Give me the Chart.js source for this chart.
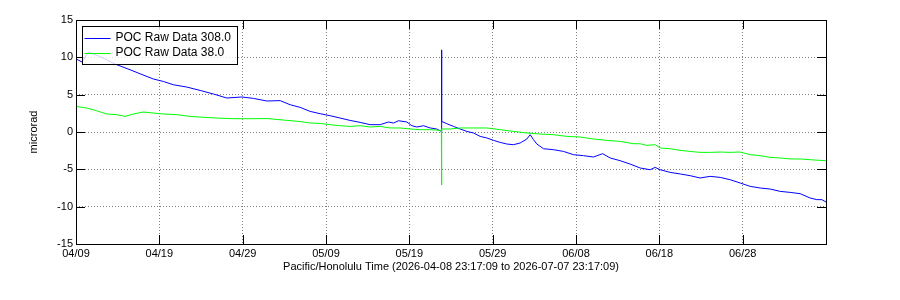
<!DOCTYPE html>
<html>
<head>
<meta charset="utf-8">
<script src="https://cdn.jsdelivr.net/npm/chart.js@4.4.1/dist/chart.umd.min.js"></script>
<style>
  body { margin: 0; background: #fff; }
</style>
</head>
<body>
<canvas id="chart" width="900" height="300"></canvas>
<script>
// days since 04/09, ticks every 10 days
const tickLabels = ['04/09', '04/19', '04/29', '05/09', '05/19', '05/29', '06/08', '06/18', '06/28'];
const seriesNames = ['POC Raw Data 308.0', 'POC Raw Data 38.0'];

const blueDays = [0, 0.72, 1.48, 2.88, 4.08, 4.68, 6.48, 7.68, 9.28, 10.48, 11.68, 13.29, 14.89, 16.49, 18.1, 19.9,
  21.29, 22.9, 24.5, 25.7, 26.9, 28.1, 29.3, 30.5, 31.7, 32.9, 34.1, 35.3, 36.5, 37.5, 38.1, 38.7, 39.7, 40.3,
  40.9, 41.7, 42.5, 43.3, 43.84, 43.88, 43.88, 44.5, 45.3, 46.1, 46.9, 47.7, 48.5, 49.3, 50.1, 50.9, 51.7, 52.5,
  53.3, 54.1, 54.5, 54.9, 55.3, 56.1, 57.3, 58.5, 59.7, 60.9, 62.1, 63.2, 64.1, 65.3, 66.5, 67.7, 68.9, 69.5,
  70.1, 71.3, 72.5, 73.7, 74.9, 76.1, 77.3, 78.5, 79.7, 80.9, 82.1, 83.3, 84.5, 85.7, 86.9, 88.1, 88.9, 89.5, 90];
const blueVals = [9.8, 9.37, 10.7, 10.1, 9.45, 9.1, 8.34, 7.8, 7.1, 6.77, 6.33, 6.02, 5.57, 5.09, 4.55, 4.69,
  4.5, 4.15, 4.2, 3.65, 3.3, 2.76, 2.45, 2.18, 1.87, 1.55, 1.29, 0.98, 0.98, 1.34, 1.2, 1.51, 1.34, 0.84,
  0.67, 0.84, 0.54, 0.4, 0.08, 11.0, 1.42, 1.11, 0.75, 0.4, 0.08, -0.13, -0.59, -0.8, -1.12, -1.39, -1.61, -1.7,
  -1.47, -0.94, -0.36, -1.03, -1.61, -2.24, -2.37, -2.6, -3.04, -3.17, -3.35, -2.9, -3.48, -3.84, -4.3, -4.82, -5.05, -4.74,
  -5.05, -5.41, -5.62, -5.85, -6.16, -5.94, -6.08, -6.39, -6.83, -7.28, -7.5, -7.64, -7.95, -8.09, -8.26, -8.84, -9.06, -9.06, -9.37];

const greenDays = [0, 1.28, 2.48, 3.68, 4.89, 5.89, 6.88, 8.08, 9.28, 10.48, 12.09, 13.69, 14.89, 16.89, 18.89,
  20.9, 22.9, 24.9, 26.9, 28.1, 29.3, 30.5, 31.7, 32.9, 34.1, 35.3, 36.5, 37.7, 38.9, 40.1, 41.3, 42.5, 43.84,
  43.88, 43.88, 44.9, 46.1, 47.7, 49.3, 50.9, 52.5, 54.1, 55.7, 57.3, 58.9, 60.5, 62.1, 63.7, 65.3, 66.9, 67.7,
  68.5, 69.5, 70.1, 71.3, 72.5, 73.7, 74.9, 76.1, 77.3, 78.5, 79.7, 80.9, 82.1, 83.3, 84.5, 85.7, 86.9, 88.1, 89.3, 90];
const greenVals = [3.43, 3.21, 2.85, 2.41, 2.32, 2.09, 2.41, 2.68, 2.54, 2.41, 2.32, 2.09, 2.0, 1.87, 1.78,
  1.78, 1.8, 1.6, 1.4, 1.2, 1.15, 0.98, 0.84, 0.75, 0.84, 0.67, 0.75, 0.54, 0.54, 0.4, 0.31, 0.31, 0.21,
  -7.1, 0.4, 0.4, 0.54, 0.54, 0.54, 0.31, 0.08, -0.13, -0.27, -0.36, -0.59, -0.67, -0.94, -1.12, -1.26, -1.57, -1.57,
  -1.79, -1.7, -2.14, -2.24, -2.46, -2.6, -2.73, -2.73, -2.68, -2.73, -2.68, -3.04, -3.17, -3.4, -3.48, -3.61, -3.61, -3.71, -3.8, -3.84];

const colors = ['#0000ff', '#00ff00'];
const font = 'Liberation Sans, Arial, Helvetica, sans-serif';

function points(days, vals) {
  return days.map((d, i) => ({ x: d, y: vals[i] }));
}

// box, inward tick marks and legend on top of the lines
const framePlugin = {
  id: 'frame',
  afterDatasetsDraw(chart) {
    const { ctx, chartArea: a, scales: { x, y } } = chart;
    const len = 9;
    ctx.save();
    ctx.strokeStyle = '#000';
    ctx.lineWidth = 1;
    ctx.beginPath();
    x.ticks.forEach(t => {
      const px = Math.round(x.getPixelForValue(t.value)) + 0.5;
      ctx.moveTo(px, a.top); ctx.lineTo(px, a.top + len);
      ctx.moveTo(px, a.bottom); ctx.lineTo(px, a.bottom - len);
    });
    y.ticks.forEach(t => {
      const py = Math.round(y.getPixelForValue(t.value)) + 0.5;
      ctx.moveTo(a.left, py); ctx.lineTo(a.left + len, py);
      ctx.moveTo(a.right, py); ctx.lineTo(a.right - len, py);
    });
    ctx.stroke();
    ctx.strokeRect(Math.round(a.left) + 0.5, Math.round(a.top) + 0.5,
      Math.round(a.right - a.left), Math.round(a.bottom - a.top));

    // legend
    const lx = Math.round(a.left) + 6.5, ly = Math.round(a.top) + 6.5;
    ctx.fillStyle = 'rgba(255,255,255,0.8)';
    ctx.fillRect(lx, ly, 155, 38);
    ctx.strokeRect(lx, ly, 155, 38);
    ctx.font = '12px ' + font;
    ctx.textBaseline = 'middle';
    seriesNames.forEach((name, i) => {
      const yy = ly + 11 + i * 15.6;
      ctx.strokeStyle = colors[i];
      ctx.beginPath();
      ctx.moveTo(lx + 2, Math.round(yy) + 0.5);
      ctx.lineTo(lx + 28, Math.round(yy) + 0.5);
      ctx.stroke();
      ctx.fillStyle = '#000';
      ctx.fillText(name, lx + 33, yy);
    });
    ctx.restore();
  }
};

new Chart(document.getElementById('chart'), {
  type: 'line',
  data: {
    datasets: [
      { label: seriesNames[0], data: points(blueDays, blueVals), borderColor: colors[0], order: 1 },
      { label: seriesNames[1], data: points(greenDays, greenVals), borderColor: colors[1], order: 0 }
    ]
  },
  options: {
    responsive: false,
    animation: false,
    layout: { padding: { top: 20, right: 74, left: 0, bottom: 0 } },
    elements: {
      line: { borderWidth: 1, tension: 0 },
      point: { radius: 0 }
    },
    plugins: {
      legend: { display: false },
      tooltip: { enabled: false }
    },
    scales: {
      x: {
        type: 'linear',
        min: 0,
        max: 90,
        afterFit: s => { s.height = 56; },
        ticks: {
          stepSize: 10,
          autoSkip: false,
          maxRotation: 0,
          padding: 3,
          color: '#000',
          font: { family: font, size: 11 },
          callback: v => tickLabels[v / 10] || ''
        },
        grid: { color: '#808080', drawTicks: false },
        border: { display: false, dash: [1, 2] },
        title: {
          display: true,
          text: 'Pacific/Honolulu Time (2026-04-08 23:17:09 to 2026-07-07 23:17:09)',
          color: '#000',
          font: { family: font, size: 11 },
          padding: { top: 0, bottom: 26 }
        }
      },
      y: {
        min: -15,
        max: 15,
        afterFit: s => { s.width = 76; },
        ticks: {
          stepSize: 5,
          padding: 3,
          color: '#000',
          font: { family: font, size: 11 }
        },
        grid: { color: '#808080', drawTicks: false },
        border: { display: false, dash: [1, 2] },
        title: {
          display: true,
          text: 'microrad',
          color: '#000',
          font: { family: font, size: 11 },
          padding: { top: 27, bottom: 0 }
        }
      }
    }
  },
  plugins: [framePlugin]
});
</script>
</body>
</html>
